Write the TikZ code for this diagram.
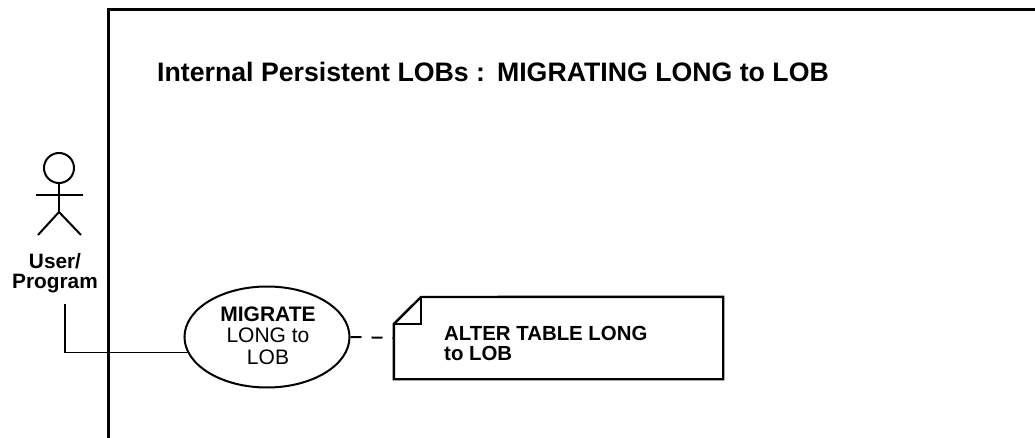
\documentclass[tikz,border=0pt]{standalone}
\usepackage{fontspec}
\setmainfont{Liberation Sans}
\usetikzlibrary{shapes.geometric}
\tikzset{
  usecase/.style={draw, ellipse, line width=2pt, inner sep=0pt, minimum width=165, minimum height=101, align=center},
  notebox/.style={inner sep=0pt, minimum width=329, minimum height=82},
  stick/.style={line width=2pt},
}
\begin{document}
\begin{tikzpicture}[x=1pt,y=-1pt]
  \useasboundingbox (0,0) rectangle (1035,438);
  % frame
  \draw[line width=3pt] (1035,9.5) -- (108.5,9.5) -- (108.5,438);
  \node[anchor=base west, inner sep=0pt, font=\fontsize{26.7}{28}\selectfont\bfseries] (title) at (157,82) {Internal Persistent LOBs :\hspace{12pt}MIGRATING LONG to LOB};
  % actor
  \node[draw, circle, line width=2pt, inner sep=0pt, minimum size=30] (head) at (59,168) {};
  \coordinate (hip) at (59,212);
  \coordinate (armL) at (36,195);
  \coordinate (armR) at (83,195);
  \coordinate (legL) at (38,235);
  \coordinate (legR) at (81,235);
  \draw[stick] (head) -- (hip);
  \draw[stick] (armL) -- (armR);
  \draw[stick] (legL) -- (hip) -- (legR);
  \node[inner sep=0pt, align=center, font=\fontsize{20.8}{20}\selectfont\bfseries] (user) at (55,273) {User/\\Program};
  % use case and note
  \node[usecase] (migrate) at (267,337) {};
  \node[inner sep=0pt, align=center, font=\fontsize{21}{21.3}\selectfont] (migratetext) at (268,335.5) {\textbf{MIGRATE}\\LONG to\\LOB};
  \node[notebox] (note) at (558.5,338) {};
  \draw[line width=2.4pt] (note.west |- 0,324) -- (421,297) -- (note.north east) -- (note.south east) -- (note.south west) -- cycle;
  \draw[line width=2pt] (note.west |- 0,324) -- (421,324) -- (421,297);
  \node[anchor=west, inner sep=0pt, align=left, font=\fontsize{20.4}{20.4}\selectfont\bfseries] (notetext) at (444,343.5) {ALTER TABLE LONG\\to LOB};
  % connectors
  \coordinate (userout) at (65,304);
  \draw[line width=1.1pt] (userout) |- (migrate.191.5);
  \draw[line width=2pt, dash pattern=on 11pt off 10pt] (migrate.east) -- (note.west);
\end{tikzpicture}
\end{document}
